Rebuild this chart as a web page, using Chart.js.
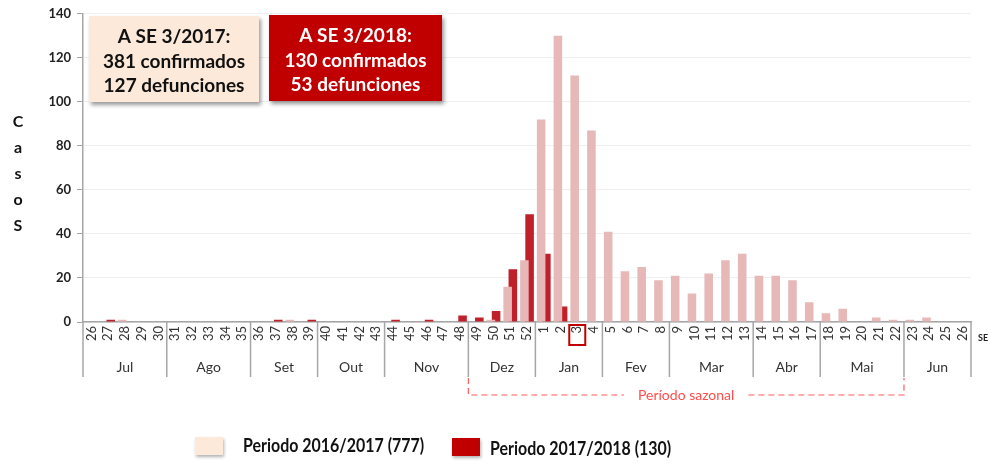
<!DOCTYPE html>
<html><head><meta charset="utf-8">
<script src="https://cdn.jsdelivr.net/npm/chart.js@4/dist/chart.umd.min.js"></script>
<style>html,body{margin:0;padding:0;background:#fff;}#wrap{width:988px;height:466px;}</style>
</head><body><div id="wrap"><canvas id="c" width="988" height="466"></canvas></div>
<script>
// ---- data ----
const weeks = ['26','27','28','29','30','31','32','33','34','35','36','37','38','39','40','41','42','43','44','45','46','47','48','49','50','51','52',
               '1','2','3','4','5','6','7','8','9','10','11','12','13','14','15','16','17','18','19','20','21','22','23','24','25','26'];
const periodo1617 = [0,0,1,0,0, 0,0,0,0,0, 0,0,1,0, 0,0,0,0, 0,0,0,0,0, 0,1,16,28,
                     92,130,112,87, 41,23,25,19, 21,13,22,28,31, 21,21,19,9, 4,6,0,2,1, 1,2,0,0];
const periodo1718 = [0,1,0,0,0, 0,0,0,0,0, 0,1,0,1, 0,0,0,0, 1,0,1,0,3, 2,5,24,49,
                     31,7,0,0, 0,0,0,0, 0,0,0,0,0, 0,0,0,0, 0,0,0,0,0, 0,0,0,0];
const yTickValues = [0,20,40,60,80,100,120,140];
const months = ['Jul','Ago','Set','Out','Nov','Dez','Jan','Fev','Mar','Abr','Mai','Jun'];
const monthWeekCounts = [5,5,4,4,5,4,4,4,5,4,5,4];
const seriesNames = ['Periodo 2016/2017 (777)','Periodo 2017/2018 (130)'];
const box2017 = ['A SE 3/2017:','381 confirmados','127 defunciones'];
const box2018 = ['A SE 3/2018:','130 confirmados','53 defunciones'];
const yTitleLetters = ['C','a','s','o','S'];
const seasonLabel = 'Período sazonal';
const seasonFromMonth = 'Dez', seasonToMonth = 'Jun';
const highlightedWeekIndex = 29; // SE 3
const xUnitLabel = 'SE';

const COL_PINK = '#E6B9B8', COL_RED = '#C0202A';
const BOX_PINK = '#FDE9D9', BOX_RED = '#C00000';

const overlay = {
  id: 'overlay',
  afterDraw(chart) {
    const ctx = chart.ctx, xs = chart.scales.x, area = chart.chartArea;
    const half = (xs.getPixelForValue(1) - xs.getPixelForValue(0)) / 2;
    const base = area.bottom;
    ctx.save();
    // month labels + separators
    let start = 0; const bounds = [];
    ctx.font = '14px Lato'; ctx.fillStyle = '#333'; ctx.textAlign = 'center'; ctx.textBaseline = 'middle';
    months.forEach((m, i) => {
      const end = start + monthWeekCounts[i] - 1;
      const x0 = xs.getPixelForValue(start) - half, x1 = xs.getPixelForValue(end) + half;
      bounds.push(x0);
      ctx.fillText(m, (x0 + x1) / 2, base + 45);
      start = end + 1;
    });
    bounds.push(xs.getPixelForValue(start - 1) + half);
    ctx.strokeStyle = '#a6a6a6'; ctx.lineWidth = 1.5;
    bounds.forEach(b => { ctx.beginPath(); ctx.moveTo(b, base); ctx.lineTo(b, base + 55); ctx.stroke(); });
    // seasonal bracket
    const bl = bounds[months.indexOf(seasonFromMonth)], br = bounds[months.indexOf(seasonToMonth)];
    const by = base + 73, bt = base + 56;
    ctx.font = '14px Lato';
    const tw = ctx.measureText(seasonLabel).width, cx = (bl + br) / 2;
    ctx.strokeStyle = '#FF5B5B'; ctx.lineWidth = 1.2; ctx.setLineDash([6, 4]);
    ctx.beginPath();
    ctx.moveTo(bl, bt); ctx.lineTo(bl, by); ctx.lineTo(cx - tw / 2 - 14, by);
    ctx.moveTo(cx + tw / 2 + 14, by); ctx.lineTo(br, by); ctx.lineTo(br, bt);
    ctx.stroke(); ctx.setLineDash([]);
    ctx.fillStyle = '#FF4D4D'; ctx.fillText(seasonLabel, cx, by);
    // SE label
    ctx.font = 'bold 9px Lato'; ctx.fillStyle = '#222'; ctx.textAlign = 'left';
    ctx.fillText(xUnitLabel, area.right + 7, base + 16);
    // highlight box around week 3
    const hx = xs.getPixelForValue(highlightedWeekIndex);
    ctx.strokeStyle = BOX_RED; ctx.lineWidth = 2;
    ctx.strokeRect(hx - 8, base + 3, 16, 20);
    // y title
    ctx.font = 'bold 16px Lato'; ctx.fillStyle = '#111'; ctx.textAlign = 'center';
    yTitleLetters.forEach((l, i) => ctx.fillText(l, 18, 122 + i * 26));
    // annotation boxes
    function box(x, y, w, h, fill, color, lines) {
      ctx.save();
      ctx.shadowColor = 'rgba(0,0,0,0.4)'; ctx.shadowOffsetX = 2; ctx.shadowOffsetY = 3; ctx.shadowBlur = 4;
      ctx.fillStyle = fill; ctx.fillRect(x, y, w, h);
      ctx.restore();
      ctx.font = 'bold 19px Lato'; ctx.fillStyle = color; ctx.textAlign = 'center'; ctx.textBaseline = 'middle';
      lines.forEach((t, i) => ctx.fillText(t, x + w / 2, y + 21 + i * 24.5));
    }
    box(89, 16, 170, 86, BOX_PINK, '#111', box2017);
    box(269, 15, 173, 86, BOX_RED, '#fff', box2018);
    // legend
    function leg(x, y, fill, text, tx, ty) {
      ctx.save();
      ctx.shadowColor = 'rgba(0,0,0,0.3)'; ctx.shadowOffsetX = 1; ctx.shadowOffsetY = 2; ctx.shadowBlur = 3;
      ctx.fillStyle = fill; ctx.fillRect(x, y, 28, 18);
      ctx.restore();
      ctx.save();
      ctx.font = 'bold 19px Lato'; ctx.fillStyle = '#111'; ctx.textAlign = 'left'; ctx.textBaseline = 'middle';
      ctx.translate(tx, ty); ctx.scale(0.84, 1);
      ctx.fillText(text, 0, 0);
      ctx.restore();
    }
    leg(195, 437, BOX_PINK, seriesNames[0], 243, 446);
    leg(452, 438, BOX_RED, seriesNames[1], 490, 449);
    ctx.restore();
  }
};

new Chart(document.getElementById('c'), {
  type: 'bar',
  data: {
    labels: weeks,
    datasets: [
      { label: seriesNames[0], data: periodo1617, backgroundColor: COL_PINK, borderWidth: 0 },
      { label: seriesNames[1], data: periodo1718, backgroundColor: COL_RED, borderWidth: 0 }
    ]
  },
  options: {
    responsive: false, animation: false, devicePixelRatio: 1,
    categoryPercentage: 0.62, barPercentage: 1.65,
    layout: { padding: { top: 12, right: 17, bottom: 0, left: 0 } },
    plugins: { legend: { display: false }, tooltip: { enabled: false } },
    scales: {
      x: {
        grid: { display: false, drawTicks: false },
        border: { display: true, color: '#a6a6a6', width: 1.5 },
        ticks: { autoSkip: false, minRotation: 90, maxRotation: 90, padding: 4, color: '#333', font: { family: 'Lato', size: 13 } },
        afterFit(s) { s.height = 144; }
      },
      y: {
        min: 0, max: 140,
        afterBuildTicks(s) { s.ticks = yTickValues.map(v => ({ value: v })); },
        grid: { color: '#efefef', tickColor: '#a6a6a6', tickLength: 6, drawTicks: true },
        border: { display: true, color: '#a6a6a6', width: 1.5 },
        ticks: { padding: 6, color: '#222', font: { family: 'Lato', size: 13, weight: 'bold' } },
        afterFit(s) { s.width = 83; }
      }
    }
  },
  plugins: [overlay]
});
</script></body></html>
